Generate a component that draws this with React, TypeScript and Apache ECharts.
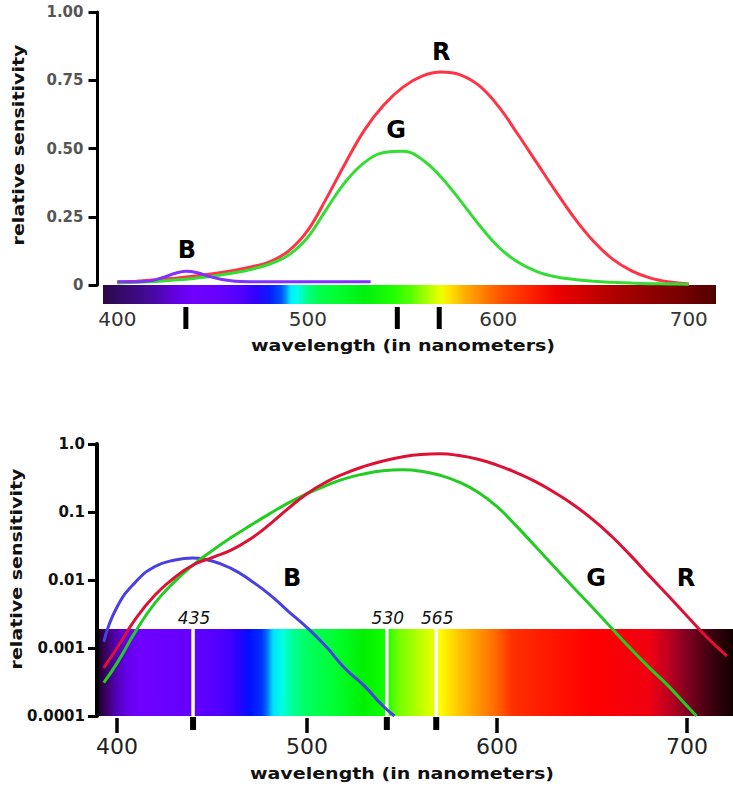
import React, { useEffect, useRef } from "react";
import * as echarts from "echarts";

// ---------- top panel (linear) ----------
const topWavelengths = [400, 410, 420, 430, 440, 450, 460, 470, 480, 490, 500, 510, 520, 530, 540, 550, 560, 570, 580, 590, 600, 610, 620, 630, 640, 650, 660, 670, 680, 690, 700];
const topRed = [0.01, 0.014, 0.019, 0.025, 0.032, 0.041, 0.052, 0.066, 0.085, 0.125, 0.2, 0.32, 0.45, 0.57, 0.66, 0.725, 0.765, 0.78, 0.77, 0.73, 0.655, 0.555, 0.45, 0.345, 0.245, 0.16, 0.095, 0.052, 0.025, 0.011, 0.004];
const topGreen = [0.007, 0.01, 0.013, 0.018, 0.024, 0.032, 0.043, 0.057, 0.077, 0.11, 0.175, 0.28, 0.38, 0.45, 0.485, 0.49, 0.46, 0.395, 0.31, 0.22, 0.14, 0.085, 0.05, 0.03, 0.02, 0.014, 0.01, 0.007, 0.005, 0.004, 0.003];
const topBlueWavelengths = [400, 410, 418, 425, 430, 436, 442, 448, 455, 462, 475, 500, 533];
const topBlue = [0.012, 0.012, 0.016, 0.03, 0.042, 0.05, 0.045, 0.032, 0.02, 0.014, 0.012, 0.012, 0.012];
const topYTicks = [0, 0.25, 0.5, 0.75, 1];
const topPeakMarks = [436, 547, 569];
const topCurveLabels = ["R", "G", "B"];
const topCurveLabelPos = [[570, 0.853], [546.3, 0.568], [436.6, 0.128]];

// ---------- bottom panel (log) ----------
const bottomRedWavelengths = [393, 400, 410, 420, 430, 440, 450, 460, 470, 480, 490, 500, 510, 520, 530, 540, 550, 560, 570, 580, 590, 600, 610, 620, 630, 640, 650, 660, 670, 680, 690, 700, 710, 721];
const bottomRed = [0.00051, 0.001, 0.00275, 0.006, 0.0107, 0.0166, 0.0214, 0.0275, 0.0398, 0.0646, 0.112, 0.186, 0.275, 0.37, 0.468, 0.562, 0.646, 0.7, 0.716, 0.676, 0.596, 0.49, 0.38, 0.282, 0.195, 0.129, 0.079, 0.0447, 0.0234, 0.0117, 0.0059, 0.00295, 0.00148, 0.00076];
const bottomGreenWavelengths = [393, 400, 410, 420, 430, 440, 450, 460, 470, 480, 490, 500, 510, 520, 530, 540, 550, 560, 570, 580, 590, 600, 610, 620, 630, 640, 650, 660, 670, 680, 690, 700, 705];
const bottomGreen = [0.00031, 0.0006, 0.0018, 0.0046, 0.0093, 0.0166, 0.027, 0.042, 0.063, 0.093, 0.135, 0.186, 0.245, 0.31, 0.363, 0.403, 0.417, 0.398, 0.347, 0.275, 0.195, 0.12, 0.063, 0.0316, 0.0158, 0.0079, 0.004, 0.002, 0.001, 0.00052, 0.00028, 0.00014, 0.0001];
const bottomBlueWavelengths = [393, 400, 410, 420, 430, 440, 450, 460, 470, 480, 490, 500, 510, 520, 530, 540, 546];
const bottomBlue = [0.00123, 0.004, 0.0095, 0.0158, 0.0195, 0.021, 0.019, 0.0148, 0.01, 0.0062, 0.0035, 0.002, 0.00105, 0.0005, 0.00028, 0.00014, 0.0001];
const logTickLabels = ["0.0001", "0.001", "0.01", "0.1", "1.0"];
const bottomPeakMarks = [440, 542, 568];
const peakLabels = ["435", "530", "565"];
const bottomCurveLabels = ["B", "G", "R"];
const bottomCurveLabelPos = [[492.1, 0.0107], [652.1, 0.0107], [699.5, 0.0107]];

const tickWavelengths = [400, 500, 600, 700];
const xTitle = "wavelength (in nanometers)";
const yTitle = "relative sensitivity";

// spectrum colour stops: [wavelength, colour]
const topSpectrum: [number, string][] = [
  [392.5, "#2a0848"], [400, "#330a60"], [410, "#3d0a80"], [420, "#4a08a8"], [430, "#6200e0"],
  [440, "#7000ff"], [455, "#6400ff"], [465, "#5000ff"], [473, "#3000ff"], [480, "#0a1cff"],
  [486, "#0050ff"], [489, "#00a0ff"], [491, "#00eeff"], [495, "#00ffe8"], [499, "#00ff90"],
  [505, "#00ff50"], [515, "#00ff30"], [530, "#00f010"], [545, "#20ff00"], [555, "#60ff00"],
  [563, "#b0ff00"], [570, "#f0ff00"], [575, "#ffe000"], [582, "#ffb000"], [592, "#ff8000"],
  [602, "#ff5000"], [615, "#ff2800"], [630, "#f00000"], [645, "#d00000"], [660, "#b00000"],
  [680, "#900000"], [700, "#700000"], [714.3, "#500000"],
];
const bottomSpectrum: [number, string][] = [
  [390.5, "#200030"], [394, "#3a0060"], [399, "#5000b0"], [405, "#6400e8"], [412, "#7000ff"],
  [440, "#6200ff"], [455, "#5000ff"], [463, "#3000ff"], [470, "#0010ff"], [476, "#0030ff"],
  [479, "#0070ff"], [482, "#00e0ff"], [487, "#00ffe0"], [493, "#00ff90"], [500, "#00ff60"],
  [515, "#00ff30"], [530, "#00f000"], [541, "#10ff00"], [548, "#70ff00"], [560, "#c0ff00"],
  [567, "#e8ff00"], [570, "#ffff00"], [578, "#ffd000"], [588, "#ffa000"], [598, "#ff7000"],
  [608, "#ff3000"], [625, "#ff1a00"], [650, "#ff0000"], [680, "#f00010"], [690, "#c00020"],
  [700, "#800020"], [712, "#400010"], [724.2, "#100000"],
];

const topRange = [392.5, 714.3];
const bottomRange = [390.5, 724.2];
const bottomBarTop = 0.0019;
const bottomBarBottom = 0.0001;

const zip = (xs: number[], ys: number[]) => xs.map((x, i) => [x, ys[i]]);

const gradient = (stops: [number, string][], lo: number, hi: number) =>
  new echarts.graphic.LinearGradient(
    0, 0, 1, 0,
    stops.map(([nm, c]) => ({ offset: Math.min(1, Math.max(0, (nm - lo) / (hi - lo))), color: c }))
  );

const FONT = "DejaVu Sans";

const letterMarks = (labels: string[], pos: number[][]) => ({
  symbol: "circle",
  symbolSize: 1,
  silent: true,
  itemStyle: { color: "rgba(0,0,0,0)" },
  label: { show: true, position: "inside", fontSize: 24, fontWeight: "bold", fontFamily: FONT, color: "#000" },
  data: labels.map((l, i) => ({ coord: pos[i], label: { formatter: l } })),
});

export default function App() {
  const ref = useRef<HTMLDivElement>(null);
  useEffect(() => {
    if (!ref.current) return;
    const chart = echarts.init(ref.current, undefined, { renderer: "svg" });
    const option: any = {
      animation: false,
      backgroundColor: "#ffffff",
      grid: [
        { left: 103, top: 12, width: 613, height: 273 },
        { left: 99, top: 444, width: 634, height: 272 },
      ],
      xAxis: [
        {
          gridIndex: 0, type: "value", min: topRange[0], max: topRange[1], offset: 18,
          axisLine: { show: false },
          axisTick: { show: true, length: 5, lineStyle: { color: "#333", width: 1.5 }, customValues: tickWavelengths },
          axisLabel: { customValues: tickWavelengths, fontSize: 20, color: "#333", fontFamily: FONT, margin: 6 },
          splitLine: { show: false },
        },
        {
          gridIndex: 1, type: "value", min: bottomRange[0], max: bottomRange[1], offset: 2,
          axisLine: { show: false },
          axisTick: { show: true, length: 15, lineStyle: { color: "#000", width: 3.5 }, customValues: tickWavelengths },
          axisLabel: { customValues: tickWavelengths, fontSize: 22, color: "#222", fontFamily: FONT, margin: 17 },
          splitLine: { show: false },
        },
      ],
      yAxis: [
        {
          gridIndex: 0, type: "value", min: topYTicks[0], max: topYTicks[topYTicks.length - 1], interval: 0.25, offset: 5.5,
          axisLine: { show: true, lineStyle: { color: "#000", width: 3 } },
          axisTick: { show: true, length: 9, lineStyle: { color: "#000", width: 3 } },
          axisLabel: {
            fontSize: 15, fontWeight: "bold", color: "#555", fontFamily: FONT, margin: 14,
            formatter: (v: number) => (v === 0 ? "0" : v.toFixed(2)),
          },
          splitLine: { show: false },
        },
        {
          gridIndex: 1, type: "log", logBase: 10, min: 0.0001, max: 1, offset: 2,
          axisLine: { show: true, lineStyle: { color: "#000", width: 4 } },
          axisTick: { show: true, length: 9, lineStyle: { color: "#000", width: 3 } },
          axisLabel: {
            fontSize: 15, fontWeight: "bold", color: "#111", fontFamily: FONT, margin: 12,
            formatter: (v: number) => logTickLabels[Math.round(Math.log10(v)) + 4] ?? "",
          },
          splitLine: { show: false },
        },
      ],
      series: [
        {
          type: "custom", xAxisIndex: 0, yAxisIndex: 0, z: 1, silent: true,
          data: [[topRange[0], 0, topRange[1], 0]],
          encode: { x: [0, 2], y: [1, 3] },
          renderItem: (params: any, api: any) => {
            const p0 = api.coord([api.value(0), api.value(1)]);
            const p1 = api.coord([api.value(2), api.value(3)]);
            return {
              type: "rect",
              shape: { x: p0[0], y: p0[1], width: p1[0] - p0[0], height: 19 },
              style: { fill: gradient(topSpectrum, topRange[0], topRange[1]) },
            };
          },
        },
        {
          type: "custom", xAxisIndex: 0, yAxisIndex: 0, z: 2, silent: true,
          data: topPeakMarks.map((m) => [m, 0]),
          encode: { x: 0, y: 1 },
          renderItem: (params: any, api: any) => {
            const p = api.coord([api.value(0), api.value(1)]);
            return { type: "rect", shape: { x: p[0] - 2.5, y: p[1] + 22, width: 5, height: 22 }, style: { fill: "#000" } };
          },
        },
        {
          type: "custom", xAxisIndex: 1, yAxisIndex: 1, z: 1, silent: true,
          data: [[bottomRange[0], bottomBarTop, bottomRange[1], bottomBarBottom]],
          encode: { x: [0, 2], y: [1, 3] },
          renderItem: (params: any, api: any) => {
            const p0 = api.coord([api.value(0), api.value(1)]);
            const p1 = api.coord([api.value(2), api.value(3)]);
            return {
              type: "rect",
              shape: { x: p0[0], y: p0[1], width: p1[0] - p0[0], height: p1[1] - p0[1] },
              style: { fill: gradient(bottomSpectrum, bottomRange[0], bottomRange[1]) },
            };
          },
        },
        {
          type: "custom", xAxisIndex: 1, yAxisIndex: 1, z: 2, silent: true,
          data: bottomPeakMarks.map((m) => [m, bottomBarTop, bottomBarBottom]),
          encode: { x: 0, y: [1, 2] },
          renderItem: (params: any, api: any) => {
            const p0 = api.coord([api.value(0), api.value(1)]);
            const p1 = api.coord([api.value(0), api.value(2)]);
            return {
              type: "group",
              children: [
                { type: "rect", shape: { x: p0[0] - 1.75, y: p0[1], width: 3.5, height: p1[1] - p0[1] }, style: { fill: "#fff" } },
                { type: "rect", shape: { x: p0[0] - 3, y: p1[1] + 1, width: 6, height: 13 }, style: { fill: "#000" } },
                {
                  type: "text", x: p0[0] + 1, y: p0[1] - 11,
                  style: {
                    text: peakLabels[params.dataIndex], fontSize: 17, fontStyle: "italic", fontFamily: FONT, fill: "#111",
                    align: "center", verticalAlign: "middle", textAlign: "center", textVerticalAlign: "middle",
                  },
                },
              ],
            };
          },
        },
        {
          type: "line", name: "R", xAxisIndex: 0, yAxisIndex: 0, z: 3, smooth: 0.4, showSymbol: false,
          data: zip(topWavelengths, topRed), lineStyle: { color: "#ff3344", width: 3 }, itemStyle: { color: "#ff3344" },
          markPoint: letterMarks([topCurveLabels[0]], [topCurveLabelPos[0]]),
        },
        {
          type: "line", name: "G", xAxisIndex: 0, yAxisIndex: 0, z: 3, smooth: 0.4, showSymbol: false,
          data: zip(topWavelengths, topGreen), lineStyle: { color: "#33dd33", width: 3 }, itemStyle: { color: "#33dd33" },
          markPoint: letterMarks([topCurveLabels[1]], [topCurveLabelPos[1]]),
        },
        {
          type: "line", name: "B", xAxisIndex: 0, yAxisIndex: 0, z: 3, smooth: 0.4, showSymbol: false,
          data: zip(topBlueWavelengths, topBlue), lineStyle: { color: "#8030ff", width: 3 }, itemStyle: { color: "#8030ff" },
          markPoint: letterMarks([topCurveLabels[2]], [topCurveLabelPos[2]]),
        },
        {
          type: "line", name: "B log", xAxisIndex: 1, yAxisIndex: 1, z: 3, smooth: 0.5, showSymbol: false,
          data: zip(bottomBlueWavelengths, bottomBlue), lineStyle: { color: "#4840e0", width: 3 }, itemStyle: { color: "#4840e0" },
          markPoint: letterMarks([bottomCurveLabels[0]], [bottomCurveLabelPos[0]]),
        },
        {
          type: "line", name: "G log", xAxisIndex: 1, yAxisIndex: 1, z: 3, smooth: 0.5, showSymbol: false,
          data: zip(bottomGreenWavelengths, bottomGreen), lineStyle: { color: "#22cc22", width: 3 }, itemStyle: { color: "#22cc22" },
          markPoint: letterMarks([bottomCurveLabels[1]], [bottomCurveLabelPos[1]]),
        },
        {
          type: "line", name: "R log", xAxisIndex: 1, yAxisIndex: 1, z: 3, smooth: 0.5, showSymbol: false,
          data: zip(bottomRedWavelengths, bottomRed), lineStyle: { color: "#dd1133", width: 3 }, itemStyle: { color: "#dd1133" },
          markPoint: letterMarks([bottomCurveLabels[2]], [bottomCurveLabelPos[2]]),
        },
      ],
      graphic: [
        {
          type: "text", x: 403, y: 346, scaleX: 1.27, silent: true,
          style: { text: xTitle, fontSize: 15, fontWeight: "bold", fontFamily: FONT, fill: "#111", align: "center", verticalAlign: "middle", textAlign: "center", textVerticalAlign: "middle" },
        },
        {
          type: "text", x: 402, y: 774, scaleX: 1.27, silent: true,
          style: { text: xTitle, fontSize: 15, fontWeight: "bold", fontFamily: FONT, fill: "#111", align: "center", verticalAlign: "middle", textAlign: "center", textVerticalAlign: "middle" },
        },
        {
          type: "text", x: 19, y: 145, scaleX: 1.27, rotation: Math.PI / 2, silent: true,
          style: { text: yTitle, fontSize: 15, fontWeight: "bold", fontFamily: FONT, fill: "#111", align: "center", verticalAlign: "middle", textAlign: "center", textVerticalAlign: "middle" },
        },
        {
          type: "text", x: 17, y: 569, scaleX: 1.27, rotation: Math.PI / 2, silent: true,
          style: { text: yTitle, fontSize: 15, fontWeight: "bold", fontFamily: FONT, fill: "#111", align: "center", verticalAlign: "middle", textAlign: "center", textVerticalAlign: "middle" },
        },
      ],
    };
    chart.setOption(option);
    return () => chart.dispose();
  }, []);
  return <div ref={ref} style={{ position: "absolute", left: 0, top: 0, width: 733, height: 787, background: "#fff" }} />;
}
